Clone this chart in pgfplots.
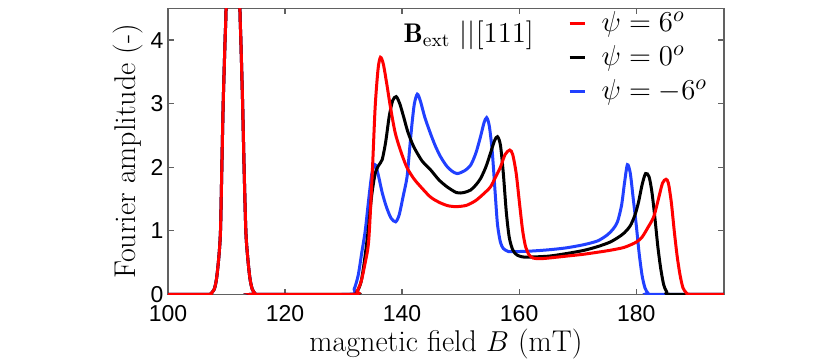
\documentclass[border=0pt]{standalone}
\usepackage{fontspec}
\usepackage{pgfplots}
\usepackage{pgfplotstable}
\pgfplotsset{compat=1.18}
\newfontfamily\tickfont{Liberation Sans}
\definecolor{myblue}{rgb}{0.13,0.25,1.0}
\definecolor{axgray}{gray}{0.38}

\pgfplotstableread{
x y
100 0
106.8 0
107.3 0.01
107.9 0.08
108.3 0.25
108.7 0.6
108.97 1.0
109.2 2.0
109.43 3.0
109.75 4.0
109.92 4.5
110.3 6.5
111.1 8
111.9 6.5
112.29 4.5
112.45 4.0
112.75 3.0
113.0 2.0
113.3 1.0
113.6 0.6
114.0 0.25
114.4 0.08
114.9 0.01
115.4 0
131.0 0
131.8 0.08
132.5 0.3
133.1 0.65
133.7 1.0
134.3 1.5
134.8 1.88
135.2 2.02
135.5 2.03
136.0 1.85
136.6 1.6
137.3 1.38
138.1 1.2
138.9 1.14
139.5 1.25
140.2 1.55
140.85 1.85
141.3 2.3
141.7 2.69
142.1 3.0
142.6 3.15
143.1 3.05
143.9 2.78
144.85 2.53
145.7 2.33
146.6 2.16
147.6 2.02
148.5 1.94
149.4 1.90
150.6 1.94
151.7 2.03
152.6 2.22
153.4 2.48
154.0 2.7
154.45 2.78
154.9 2.65
155.4 2.25
155.9 1.6
156.3 1.1
156.8 0.82
157.3 0.72
158.0 0.68
158.6 0.67
162 0.68
165 0.70
168 0.73
171 0.78
173.4 0.84
175 0.93
176 1.02
176.8 1.14
177.5 1.4
178.0 1.75
178.5 2.04
179.0 1.9
179.5 1.5
180.0 1.1
180.5 0.65
181.0 0.3
181.5 0.1
182.0 0.02
182.5 0
195 0
}\bluedata

\pgfplotstableread{
x y
100 0
106.8 0
107.3 0.01
107.9 0.08
108.3 0.25
108.7 0.6
108.97 1.0
109.2 2.0
109.43 3.0
109.75 4.0
109.92 4.5
110.3 6.5
111.1 8
111.9 6.5
112.29 4.5
112.45 4.0
112.75 3.0
113.0 2.0
113.3 1.0
113.6 0.6
114.0 0.25
114.4 0.08
114.9 0.01
115.4 0
131.5 0
132.3 0.04
133.0 0.2
133.6 0.55
134.2 1.0
134.8 1.55
135.4 1.9
136.0 2.03
136.6 2.12
137.2 2.4
137.8 2.8
138.4 3.05
139.0 3.11
139.6 3.0
140.3 2.78
141.0 2.55
142.0 2.32
143.4 2.1
144.85 1.96
146.3 1.8
147.7 1.69
149.3 1.6
150.5 1.6
151.7 1.64
152.6 1.72
153.4 1.82
154.3 2.0
155.1 2.22
155.8 2.42
156.3 2.48
156.8 2.35
157.3 1.9
157.8 1.3
158.3 0.9
158.9 0.7
159.6 0.62
160.5 0.59
161.5 0.585
165 0.6
168 0.64
171 0.69
173.4 0.75
175.5 0.82
177 0.9
178 0.97
179 1.08
179.8 1.25
180.4 1.45
181.0 1.72
181.6 1.9
182.2 1.85
182.7 1.6
183.2 1.2
183.7 0.75
184.2 0.4
184.7 0.15
185.2 0.04
185.8 0
195 0
}\blackdata

\pgfplotstableread{
x y
100 0
106.8 0
107.3 0.01
107.9 0.08
108.3 0.25
108.7 0.6
108.97 1.0
109.2 2.0
109.43 3.0
109.75 4.0
109.92 4.5
110.3 6.5
111.1 8
111.9 6.5
112.29 4.5
112.45 4.0
112.75 3.0
113.0 2.0
113.3 1.0
113.6 0.6
114.0 0.25
114.4 0.08
114.9 0.01
115.4 0
131.5 0
132.3 0.05
133.0 0.2
133.7 0.5
134.3 0.85
134.9 1.9
135.4 2.95
135.9 3.55
136.3 3.73
136.8 3.62
137.4 3.3
138.0 2.95
138.8 2.55
139.7 2.27
140.8 2.0
142.0 1.82
143.1 1.7
144.85 1.53
146.5 1.44
148 1.39
149.4 1.38
151 1.4
152.5 1.47
153.8 1.57
155.1 1.69
156.0 1.85
156.8 2.0
157.6 2.2
158.4 2.27
158.9 2.2
159.5 1.9
160.1 1.4
160.6 1.0
161.1 0.75
161.7 0.62
162.4 0.57
163.5 0.56
165 0.57
168 0.6
171 0.63
174 0.67
176 0.7
178 0.74
180 0.82
181 0.9
182 1.05
183 1.22
183.8 1.5
184.5 1.75
185.1 1.81
185.5 1.75
186.0 1.45
186.5 1.0
187.0 0.6
187.5 0.3
188.0 0.1
188.6 0.02
189.2 0
195 0
}\reddata

\begin{document}
\begin{tikzpicture}
\path[use as bounding box] (-84pt,-32.35pt) rectangle (331pt,147.15pt);
\begin{axis}[
  scale only axis,
  width=278pt, height=143pt,
  xmin=100, xmax=195, ymin=0, ymax=4.5,
  xtick={100,120,140,160,180},
  ytick={0,1,2,3,4},
  tick align=inside,
  major tick length=2.8pt,
  axis line style={axgray, line width=0.6pt},
  every tick/.style={axgray, line width=0.6pt},
  /pgf/number format/assume math mode=true,
  tick label style={font=\tickfont\fontsize{11.5}{13}\selectfont, text=black},
  xticklabel style={yshift=-2pt},
  yticklabel style={xshift=1.3pt},
  xlabel={magnetic field $B$ (mT)},
  ylabel={Fourier amplitude (-)},
  label style={font=\fontsize{15}{17}\selectfont},
  xlabel style={at={([yshift=-28.7pt]axis description cs:0.5,0)}, anchor=base},
  ylabel style={at={([xshift=-16.5pt]axis description cs:0,0.5)}, anchor=base},
  legend style={at={(rel axis cs:0.719,0.99)}, anchor=north west, draw=none, fill=none,
    font=\fontsize{15.5}{17}\selectfont, inner sep=0pt, row sep=5.5pt,
    nodes={inner sep=0pt}},
  legend cell align=left,
  legend image code/.code={\draw[#1, line width=1.5pt] (0pt,0pt) -- (7.5pt,0pt); \path[draw=none,fill=none] (0pt,0pt) -- (16pt,0pt);},
  clip=true,
]
\addplot[myblue, line width=1.5pt, smooth, tension=0.45, forget plot] table {\bluedata};
\addplot[black, line width=1.5pt, smooth, tension=0.45, forget plot] table {\blackdata};
\addplot[red, line width=1.5pt, smooth, tension=0.45, forget plot] table {\reddata};
\addlegendimage{red}
\addlegendentry{$\psi = 6^o$}
\addlegendimage{black}
\addlegendentry{$\psi = 0^o$}
\addlegendimage{myblue}
\addlegendentry{$\psi = -6^o$}
\node[font=\fontsize{13.5}{15}\selectfont] at (rel axis cs:0.541,0.907) {$\mathbf{B}_{\rm ext}\,\,||[111]$};
\end{axis}
\end{tikzpicture}
\end{document}
